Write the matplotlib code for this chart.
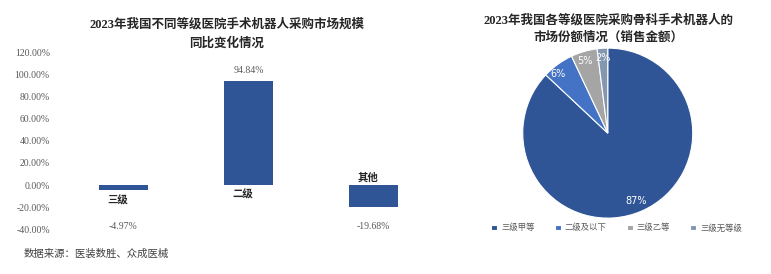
import matplotlib
matplotlib.use("Agg")
import matplotlib.pyplot as plt

plt.rcParams['font.family'] = ['Liberation Serif', 'Noto Sans CJK SC', 'DejaVu Sans']

# left: year-on-year change by hospital grade
grades = ["三级", "二级", "其他"]
yoy = [-4.97, 94.84, -19.68]
yticks = [-40, -20, 0, 20, 40, 60, 80, 100, 120]

# right: market share of orthopaedic robots (sales)
pie_labels = ["三级甲等", "二级及以下", "三级乙等", "三级无等级"]
pie_shares = [87, 6, 5, 2]
pie_colors = ["#2F5597", "#4472C4", "#A5A5A5", "#8497B0"]

bar_color = "#2F5597"
tick_color = "#595959"

fig = plt.figure(figsize=(7.71, 2.74), dpi=100)

# ---- bar chart
ax = fig.add_axes([0.079, 0.164, 0.487, 0.643])
x = list(range(len(grades)))
ax.bar(x, yoy, width=0.39, color=bar_color)
ax.set_xlim(-0.5, 2.5)
ax.set_ylim(-40, 120)
ax.set_yticks(yticks)
ax.set_yticklabels([f"{v:.2f}%" for v in yticks], fontsize=7, color=tick_color)
ax.set_xticks([])
ax.tick_params(axis='y', length=0, pad=8)
for s in ax.spines.values():
    s.set_visible(False)

# category labels sit next to the zero line
cat_y = [-13.6, -8.2, 6.4]
for i, (g, cy) in enumerate(zip(grades, cat_y)):
    ax.text(i - 0.05, cy, g, ha='center', va='center', fontsize=7.5,
            fontweight='bold', color="#262626")
# value labels
for i, v in enumerate(yoy):
    vy = v + 9.5 if v > 0 else -37.3
    ax.text(i, vy, f"{v:.2f}%", ha='center', va='center', fontsize=7,
            color=tick_color)

fig.text(0.294, 0.91, "2023年我国不同等级医院手术机器人采购市场规模",
         ha='center', va='center', fontsize=9, fontweight='bold', color="#262626")
fig.text(0.294, 0.843, "同比变化情况",
         ha='center', va='center', fontsize=9, fontweight='bold', color="#262626")

fig.text(0.030, 0.073, "数据来源：医装数胜、众成医械", ha='left', va='center',
         fontsize=7.5, color="#404040")

# ---- pie chart
pax = fig.add_axes([0.678, 0.204, 0.2205, 0.6204])
wedges, texts = pax.pie(pie_shares, colors=pie_colors, startangle=90,
                        counterclock=False, radius=1,
                        wedgeprops=dict(edgecolor='white', linewidth=0.8))
pax.set_xlim(-1, 1)
pax.set_ylim(-1, 1)
pax.set_aspect('equal')

lab_pos = [(0.33, -0.80), (-0.58, 0.70), (-0.27, 0.85), (-0.06, 0.88)]
for share, (lx, ly) in zip(pie_shares, lab_pos):
    pax.text(lx, ly, f"{share}%", ha='center', va='center', fontsize=7,
             color='white', family=['DejaVu Sans'])

fig.text(0.789, 0.927, "2023年我国各等级医院采购骨科手术机器人的",
         ha='center', va='center', fontsize=9, fontweight='bold', color="#262626")
fig.text(0.789, 0.863, "市场份额情况（销售金额）",
         ha='center', va='center', fontsize=9, fontweight='bold', color="#262626")

fig.legend(wedges, pie_labels, loc='center', bbox_to_anchor=(0.80, 0.168),
           ncol=4, frameon=False, fontsize=6, handlelength=0.7, handleheight=0.7,
           columnspacing=2.4, handletextpad=0.5, labelcolor="#595959")

fig.savefig("out.png", dpi=100)
